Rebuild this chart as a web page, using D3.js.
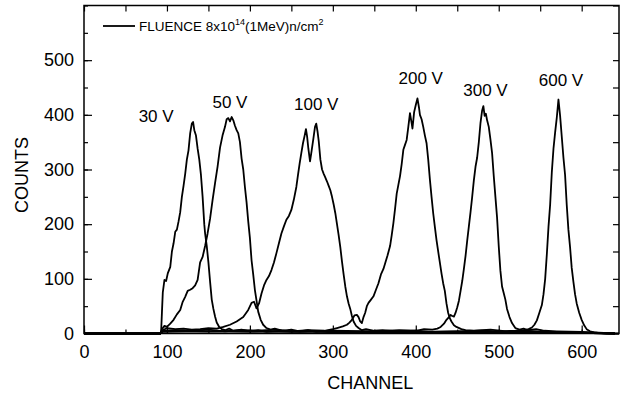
<!DOCTYPE html>
<html>
<head>
<meta charset="utf-8">
<script src="https://cdn.jsdelivr.net/npm/d3@7"></script>
<style>
  body { margin: 0; background: #fff; }
  svg { display: block; font-family: "Liberation Sans", Arial, sans-serif; }
</style>
</head>
<body>
<svg id="chart" width="620" height="399"></svg>
<script>
// pulse height spectra, [channel, counts]
var s30 = [[0,0],[92,0],[93,4],[94,40],[95,75],[97,98],[99,96],[101,110],[104,122],[106,150],[108,165],[110,186],[112,190],[114,205],[116,222],[118,250],[120,270],[122,292],[124,318],[126,335],[128,366],[130,384],[131.5,387],[133,372],[135,362],[137,338],[139,318],[141,290],[143,250],[145,200],[146,183],[148,160],[150,130],[152,95],[154,62],[156,45],[158,31],[160,20],[163,12],[166,8],[170,6],[175,9],[180,5],[190,7],[200,4],[210,6],[220,3],[240,5],[260,3],[280,4],[300,2],[330,3],[360,2],[400,2],[450,1],[500,2],[550,1],[600,1],[640,0]];
var s50 = [[0,0],[92,0],[94,8],[97,14],[100,12],[104,18],[108,25],[112,35],[116,43],[119,58],[122,67],[125,78],[128,80],[131,83],[134,88],[137,98],[140,130],[143,140],[146,160],[149,183],[152,210],[155,244],[158,275],[161,305],[164,340],[167,362],[170,378],[172,392],[174,394],[176,388],[178,396],[180,390],[182,380],[184,372],[186,366],[188,350],[190,320],[192,300],[194,268],[196,240],[198,205],[200,175],[202,134],[204,108],[206,80],[208,60],[210,40],[213,25],[216,16],[220,10],[225,7],[230,9],[240,5],[250,7],[260,4],[270,6],[280,3],[300,4],[320,2],[350,3],[400,2],[450,2],[500,1],[550,1],[600,1],[640,0]];
var s100 = [[0,0],[92,0],[95,6],[100,10],[110,8],[120,9],[130,7],[140,8],[150,10],[160,9],[168,12],[176,16],[184,22],[192,30],[198,43],[202,56],[205,58],[208,46],[211,55],[214,73],[217,88],[220,98],[223,105],[226,116],[229,130],[232,147],[235,165],[238,183],[241,196],[244,208],[247,215],[250,226],[253,245],[256,268],[258,290],[260,311],[262,330],[264,348],[266,362],[267.6,374],[269,360],[270.5,338],[272.5,315],[274.5,335],[276.5,356],[278.5,378],[280,384],[281.5,370],[283,352],[285,318],[287,300],[289,292],[291,285],[293,278],[295,270],[297,262],[299,250],[301,236],[303,220],[305,200],[307,180],[309,158],[311,132],[313,108],[315,86],[317,68],[319,55],[321,45],[323,32],[325,22],[328,14],[331,10],[335,6],[340,8],[350,5],[360,6],[380,4],[400,5],[420,3],[450,4],[480,2],[520,3],[560,2],[600,1],[640,0]];
var s200 = [[0,0],[92,0],[95,5],[110,6],[130,5],[150,7],[170,4],[190,6],[210,5],[230,7],[250,4],[270,6],[290,5],[300,8],[305,10],[312,13],[317,16],[320,20],[323,25],[326,33],[329,34],[331,30],[333,22],[335,19],[337,30],[339,38],[341,50],[343,56],[346,62],[349,68],[352,80],[355,92],[358,108],[361,118],[363,128],[366,143],[369,160],[371,180],[373,202],[375,228],[377,256],[379,272],[381,288],[383,310],[385,336],[387,345],[389,354],[391,378],[393,403],[395,385],[396,375],[398,405],[400,418],[402,430],[404,412],[405,400],[407,392],[409,378],[411,362],[413,348],[415,318],[417,282],[419,250],[421,220],[423,195],[425,171],[428,140],[431,110],[433,92],[435,78],[437,55],[439,38],[441,28],[443,22],[446,15],[449,12],[455,8],[460,6],[470,5],[490,7],[510,4],[530,5],[560,3],[600,2],[640,0]];
var s300 = [[0,0],[92,0],[95,4],[120,5],[150,4],[200,5],[250,3],[300,5],[350,4],[380,6],[400,5],[410,8],[420,7],[426,9],[430,12],[434,18],[437,25],[440,30],[442,34],[444,32],[446,31],[448,38],[450,48],[452,60],[454,78],[456,96],[458,118],[460,142],[462,170],[464,196],[466,222],[468,250],[470,280],[472,305],[474,322],[476,350],[478,385],[480,408],[481.5,416],[483,398],[484.5,402],[486,390],[488,378],[490,355],[492,330],[494,288],[496,250],[498,212],[500,160],[502,115],[504,86],[506,74],[508,62],[510,45],[513,30],[516,19],[520,10],[525,7],[530,9],[535,6],[545,8],[555,5],[570,4],[600,3],[640,0]];
var s600 = [[0,0],[92,0],[95,3],[150,4],[200,3],[250,4],[300,3],[350,4],[400,3],[450,4],[480,5],[500,4],[520,5],[530,6],[536,8],[540,11],[543,16],[546,24],[549,38],[552,52],[554,72],[556,100],[558,145],[560,195],[562,236],[564,295],[566,338],[568,368],[570,395],[572,428],[574,398],[576,360],[578,322],[580,290],[582,235],[584,190],[586,158],[588,120],[590,95],[592,72],[594,55],[597,38],[600,25],[603,15],[606,8],[610,4],[615,2],[620,1],[630,0],[645,0]];

var series = [s30, s50, s100, s200, s300, s600];
var voltLabels = ["30 V", "50 V", "100 V", "200 V", "300 V", "600 V"];
var xTicks = [0, 100, 200, 300, 400, 500, 600];
var yTicks = [0, 100, 200, 300, 400, 500];

var margin = {top: 5.5, left: 84, right: 1, bottom: 65.5};
var width = 620 - margin.left - margin.right;
var height = 399 - margin.top - margin.bottom;

var svg = d3.select("#chart");

var x = d3.scaleLinear().domain([0, 645]).range([margin.left, margin.left + width]);
var y = d3.scaleLinear().domain([0, 600]).range([margin.top + height, margin.top]);

var minorX = d3.range(0, 645, 50);
var minorY = d3.range(0, 601, 50);

// mirrored inward ticks on all four sides
svg.append("g")
  .attr("transform", "translate(0," + y(0) + ")")
  .call(d3.axisBottom(x).tickValues(minorX).tickSize(-4).tickFormat(""));
var gx = svg.append("g")
  .attr("transform", "translate(0," + y(0) + ")")
  .call(d3.axisBottom(x).tickValues(xTicks).tickSizeInner(-8).tickSizeOuter(0).tickPadding(12));
svg.append("g")
  .attr("transform", "translate(0," + margin.top + ")")
  .call(d3.axisTop(x).tickValues(minorX).tickSize(-6).tickFormat(""));
svg.append("g")
  .attr("transform", "translate(" + margin.left + ",0)")
  .call(d3.axisLeft(y).tickValues(minorY).tickSize(-4).tickFormat(""));
var gy = svg.append("g")
  .attr("transform", "translate(" + margin.left + ",0)")
  .call(d3.axisLeft(y).tickValues(yTicks).tickSizeInner(-8).tickSizeOuter(0).tickPadding(10));
svg.append("g")
  .attr("transform", "translate(" + (margin.left + width) + ",0)")
  .call(d3.axisRight(y).tickValues(minorY).tickSize(-6).tickFormat(""));

svg.selectAll(".domain").remove();
svg.selectAll(".tick line").attr("stroke", "#000").attr("stroke-width", 1.2);
svg.selectAll(".tick text")
  .attr("fill", "#000")
  .style("font-size", "18px")
  .style("font-family", "'Liberation Sans', Arial, sans-serif");

svg.append("rect")
  .attr("x", margin.left).attr("y", margin.top)
  .attr("width", width).attr("height", height)
  .attr("fill", "none").attr("stroke", "#000").attr("stroke-width", 1.5);

var line = d3.line()
  .x(d => x(d[0]))
  .y(d => y(d[1]));

svg.append("g")
  .selectAll("path")
  .data(series)
  .join("path")
    .attr("d", line)
    .attr("fill", "none")
    .attr("stroke", "#000")
    .attr("stroke-width", 1.8)
    .attr("stroke-linejoin", "round");

// peak labels, placed above each peak
var labelPos = [[87, 122], [176, 108], [280, 110], [406, 84], [484, 96], [575, 86]];
svg.append("g")
  .selectAll("text")
  .data(voltLabels)
  .join("text")
    .attr("x", (d, i) => x(labelPos[i][0]))
    .attr("y", (d, i) => labelPos[i][1])
    .attr("text-anchor", "middle")
    .style("font-size", "17px")
    .text(d => d);

// axis titles
svg.append("text")
  .attr("x", x(345)).attr("y", 389)
  .attr("text-anchor", "middle")
  .style("font-size", "18px")
  .text("CHANNEL");
svg.append("text")
  .attr("transform", "translate(28," + y(290) + ") rotate(-90)")
  .attr("text-anchor", "middle")
  .style("font-size", "18px")
  .text("COUNTS");

// legend
var lg = svg.append("g");
lg.append("line")
  .attr("x1", 103).attr("x2", 135).attr("y1", 26).attr("y2", 26)
  .attr("stroke", "#000").attr("stroke-width", 1.8);
var lt = lg.append("text")
  .attr("x", 139).attr("y", 31)
  .style("font-size", "13.5px");
lt.append("tspan").text("FLUENCE 8x10");
lt.append("tspan").attr("dy", -6).style("font-size", "9px").text("14");
lt.append("tspan").attr("dy", 6).text("(1MeV)n/cm");
lt.append("tspan").attr("dy", -6).style("font-size", "9px").text("2");
</script>
</body>
</html>
